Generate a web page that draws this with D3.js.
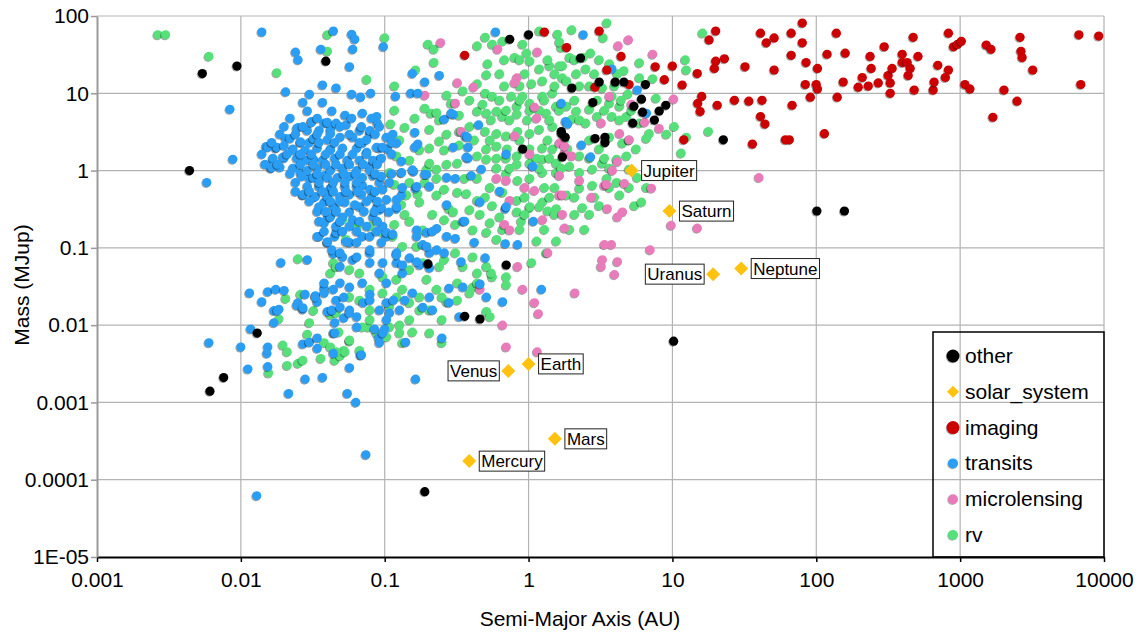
<!DOCTYPE html>
<html><head><meta charset="utf-8">
<script src="https://cdn.jsdelivr.net/npm/d3@7"></script>
<style>body{margin:0;background:#fff} svg{display:block} text{font-family:"Liberation Sans",Arial,sans-serif}</style>
</head><body><svg id="c" width="1142" height="632"></svg>
<script>
// ---------- DATA: [semi-major axis (AU), mass (MJup)] ----------
const seriesNames = ["other","solar_system","imaging","transits","microlensing","rv"];
const xTicks = [0.001,0.01,0.1,1,10,100,1000,10000];
const xTickLabels = ["0.001","0.01","0.1","1","10","100","1000","10000"];
const yTicks = [1e-5,1e-4,1e-3,0.01,0.1,1,10,100];
const yTickLabels = ["1E-05","0.0001","0.001","0.01","0.1","1","10","100"];

const solarNames = ["Mercury","Venus","Earth","Mars","Jupiter","Saturn","Uranus","Neptune"];
const solarA = [0.387,0.723,1.0,1.524,5.203,9.537,19.19,30.07];
const solarM = [0.000174,0.00256,0.00315,0.000338,1.0,0.299,0.0457,0.054];
const solarLabelSide = ["right","left","right","right","right","right","left","right"];

const other = [[0.0054,18],[0.0094,22.5],[0.0044,1.0],[0.013,0.0079],[0.0076,0.0021],[0.0061,0.0014],[0.039,26],[0.2,0.062],[0.36,0.013],[0.46,0.012],[0.70,0.06],[0.19,0.00007],[0.74,50],[1.0,57],[0.91,1.9],[1.72,1.5],[2.3,28.6],[2.0,11.7],[3.1,14],[4.0,14],[4.6,14],[6.5,13],[2.8,7.6],[5.4,6.8],[6.1,8.4],[6.2,5.7],[9.0,7.0],[8.1,5.9],[7.5,4.5],[5.3,4.1],[2.9,2.6],[3.4,2.7],[3.4,2.3],[1.7,3.0],[1.8,2.7],[1.69,3.2],[22.6,2.5],[101,0.3],[157,0.3],[10.2,0.0062]];

const imaging = [[80,81],[67,60],[80,45],[67,31],[85,25],[138,60],[119,32],[159,33],[102,21],[84,13],[100,13],[102,11.4],[91,8.9],[68,7.0],[140,8.9],[154,14],[114,3.0],[65,2.5],[209,16],[196,12],[230,12.4],[237,30],[241,21],[270,13.6],[297,40],[316,17],[337,21],[327,13.6],[327,10],[396,32],[396,25],[429,25],[450,21],[436,17],[472,53],[510,30],[480,11],[650,11],[660,14],[700,23],[830,20],[790,16],[830,60],[900,40],[960,43],[1020,47],[1080,13],[1170,11.4],[1520,42],[1640,37],[2020,11],[1690,4.9],[2490,7.9],[2610,53],[2650,35],[2700,29],[3200,20],[6700,57],[9200,55],[6900,13],
[3.1,64],[1.84,39],[4.4,30],[3.5,20],[2.9,12],[5.0,13],[7.6,22],[10,22.5],[8.8,15],[11.7,12.8],[14.9,18],[20,64],[18,49],[20,26],[23,28],[19.6,21],[32,22],[51,20],[41,60],[45,45],[51,52],[16,9.1],[15,7.4],[15.6,5.8],[20.5,7.0],[27,8.1],[34,7.9],[42,8.1],[41,5.0],[44,4.0],[12,2.5],[36,2.2],[61,2.5],[1.29,62],[0.36,31]];

const transits = [[0.014,62],[0.044,64],[0.024,34],[0.025,27],[0.036,37],[0.0205,10.4],[0.030,9.7],[0.037,12.8],[0.027,7.6],[0.037,7.6],[0.029,5.9],[0.043,5.9],[0.0084,6.2],[0.0088,1.4],[0.0058,0.70],[0.025,3.6],[0.031,4.3],[0.029,3.3],[0.0205,2.6],[0.015,2.05],[0.0175,1.95],[0.0167,1.32],[0.0162,1.07],[0.0187,1.1],[0.020,1.45],[0.023,1.9],[0.026,2.3],[0.030,2.3],[0.038,4.1],[0.042,3.4],[0.027,1.4],[0.032,1.4],[0.042,1.9],[0.026,0.94],[0.030,0.79],[0.038,0.86],[0.027,0.48],[0.032,0.45],[0.038,0.39],[0.042,0.59],[0.040,0.24],[0.038,0.21],[0.035,0.14],[0.040,0.117],[0.045,0.14],[0.044,0.084],[0.019,0.064],[0.029,0.070],[0.0115,0.026],[0.014,0.020],[0.0154,0.027],[0.0175,0.029],[0.020,0.028],[0.017,0.0154],[0.0184,0.016],[0.025,0.0195],[0.028,0.025],[0.033,0.024],[0.034,0.020],[0.027,0.016],[0.038,0.030],[0.038,0.035],[0.043,0.0154],
[0.018,0.0154],[0.017,0.0107],[0.0117,0.0089],[0.006,0.0059],[0.010,0.0052],[0.0154,0.0052],[0.0152,0.0043],[0.0112,0.0027],[0.0154,0.0029],[0.0215,0.0013],[0.027,0.0057],[0.030,0.0060],[0.034,0.0068],[0.034,0.0050],[0.028,0.0020],[0.037,0.0021],[0.044,0.0043],[0.044,0.0079],[0.045,0.0107],[0.057,0.0028],[0.068,0.0041],[0.055,0.0013],[0.063,0.0010],[0.074,0.00021],[0.0129,0.000062],[0.0245,0.018],[0.027,0.0168],[0.033,0.023],[0.038,0.026],[0.040,0.015],[0.043,0.0156],[0.046,0.021],[0.052,0.023],[0.057,0.0156],[0.052,0.0124],[0.064,0.0128],[0.064,0.0094],[0.071,0.0195],[0.079,0.025],[0.085,0.0089],[0.091,0.0068],[0.092,0.0059],[0.10,0.0089],[0.108,0.0144],[0.092,0.0156],[0.103,0.0195],[0.115,0.021],
[0.059,58],[0.062,50],[0.060,37],[0.098,40],[0.057,22],[0.156,18],[0.19,14],[0.24,17],[0.59,62],[0.046,11.7],[0.059,9.7],[0.068,8.9],[0.080,10],[0.119,9.1],[0.152,10],[0.26,4.6],[0.30,5.3],[0.45,3.9],[0.365,2.8],[0.30,2.0],[0.38,2.0],[0.38,1.44],[0.17,2.2],[0.162,3.1],[0.114,2.95],[0.131,1.32],[0.159,0.97],[0.196,0.89],[0.164,0.59],[0.131,0.48],[0.103,0.42],[0.121,0.32],[0.31,0.79],[0.40,0.86],[0.47,1.04],[0.63,0.54],[0.46,0.39],[0.69,0.32],[0.70,1.63],[1.07,1.13],[1.69,7.4],[1.81,4.3],[0.070,5.5],[0.088,5.0],[0.089,4.1],[0.079,3.0],[0.070,2.26],[0.092,1.95],[0.105,1.9],[0.092,1.4],[0.079,1.13],[0.083,0.86],[0.070,0.64],[0.092,0.70],[0.081,0.45],[0.088,0.33],
[2.4,57],[3.8,20.6],[5.7,11],[6.6,5.5],[1.87,4.0],[2.33,2.13],[2.7,1.5],
[0.27,0.36],[0.35,0.22],[0.31,0.132],[0.42,0.117],[0.50,0.074],[0.34,0.066],[0.26,0.086],[0.23,0.094],[0.196,0.158],[0.167,0.17],[0.23,0.178],[0.184,0.11],[0.28,0.030],[0.35,0.031],[0.28,0.0195],[0.51,0.023],[0.66,0.020],[0.33,0.0128],[0.46,0.034],[0.70,0.34],[0.69,0.113],[0.84,0.11],[1.08,0.22],[1.23,0.029],[0.25,0.0068],[0.14,0.0060],[0.097,0.0079],[0.069,0.0041],[0.164,0.0020],[0.121,0.42],[0.149,0.074],[0.175,0.060],[0.205,0.055],[0.205,0.023],[0.156,0.026],[0.184,0.017],[0.215,0.0156],[0.138,0.021],[0.127,0.0156],[0.103,0.0117],[0.079,0.021],[0.057,0.0144],[0.049,0.017],[0.045,0.0079],[0.103,0.035],[0.092,0.047],[0.070,0.035],[0.057,0.031],[0.049,0.035],[0.044,0.029],[0.079,0.064],[0.060,0.070],[0.049,0.057],[0.121,0.064],[0.133,0.047],[0.046,0.31],[0.057,0.29],[0.067,0.34],[0.083,0.25],[0.097,0.19],[0.103,0.14],[0.121,0.086],[0.046,0.158],[0.057,0.117],[0.070,0.14],[0.079,0.086],[0.051,0.076],[0.043,0.094],[0.092,0.31],[0.121,0.34],[0.097,0.064],
[0.053,5.2],[0.031,4.2],[0.040,4.2],[0.046,4.1],[0.054,3.9],[0.067,3.3],[0.079,3.3],[0.0245,3.5],[0.035,3.3],[0.042,3.0],[0.022,2.6],[0.026,2.35],[0.032,2.6],[0.040,2.5],[0.049,2.7],[0.060,2.7],[0.075,2.5],[0.088,2.0],[0.097,2.0],[0.0154,2.0],[0.0178,2.0],[0.020,2.1],[0.023,1.84],[0.028,1.84],[0.034,1.95],[0.042,1.84],[0.051,1.95],[0.064,1.95],[0.075,1.72],[0.0167,1.44],[0.0196,1.49],[0.0245,1.44],[0.029,1.36],[0.037,1.36],[0.045,1.44],[0.055,1.36],[0.067,1.36],[0.083,1.36],[0.095,1.44],[0.0164,1.1],[0.023,1.07],[0.029,1.0],[0.034,1.07],[0.042,1.0],[0.051,1.07],[0.064,1.0],[0.079,1.0],[0.095,0.84],[0.0265,0.84],[0.032,0.81],[0.040,0.81],[0.047,0.81],[0.057,0.84],[0.070,0.81],[0.029,0.62],[0.035,0.62],[0.043,0.60],[0.053,0.62],[0.064,0.62],[0.079,0.57],[0.027,0.49],[0.033,0.46],[0.040,0.46],[0.049,0.46],[0.057,0.49],[0.069,0.49],[0.035,0.34],[0.044,0.34],[0.053,0.39],[0.062,0.36],[0.042,0.25],[0.051,0.25],[0.060,0.23],[0.046,0.19],[0.057,0.19],[0.075,0.19],[0.034,0.14],[0.040,0.12],[0.054,0.12],[0.064,0.117],[0.079,0.14],[0.103,0.158],[0.114,0.149],[0.049,0.086],[0.064,0.076],[0.079,0.094],[0.095,0.117],[0.121,0.081],[0.133,0.060],[0.167,0.066],[0.205,0.086],[0.196,0.104],[0.27,0.14],[0.167,0.14],[0.095,0.33],[0.107,0.29],[0.097,0.57],[0.156,1.02],[0.19,0.89],[0.205,0.62],[0.167,0.62],[0.133,0.60],[0.162,2.0],[0.121,2.26],[0.103,2.7],[0.17,10],[0.29,5.5],[0.376,2.7],[0.37,1.49],[0.27,0.81],[0.36,0.22],[0.215,0.163],[0.131,0.94],
[0.022,4.75],[0.034,4.75],[0.059,4.75],[0.081,4.75],[0.020,3.7],[0.027,3.7],[0.049,3.7],[0.069,3.7],[0.092,3.7],[0.0187,2.95],[0.024,2.95],[0.034,2.95],[0.057,2.95],[0.086,2.95],[0.0164,2.3],[0.035,2.3],[0.045,2.3],[0.067,2.3],[0.112,2.3],
[0.014,1.63],[0.021,1.63],[0.026,1.63],[0.031,1.63],[0.039,1.63],[0.049,1.63],[0.060,1.63],[0.075,1.63],[0.112,1.63],[0.0147,1.2],[0.018,1.2],[0.026,1.2],[0.032,1.2],[0.039,1.2],[0.046,1.2],[0.057,1.2],[0.071,1.2],[0.089,1.2],
[0.022,0.91],[0.034,0.91],[0.052,0.91],[0.063,0.91],[0.086,0.91],[0.112,0.91],[0.024,0.70],[0.035,0.70],[0.044,0.70],[0.053,0.70],[0.064,0.70],[0.108,0.70],[0.024,0.535],[0.030,0.535],[0.037,0.535],[0.044,0.535],[0.054,0.535],[0.065,0.535],[0.086,0.535],
[0.030,0.40],[0.042,0.40],[0.049,0.40],[0.075,0.40],[0.089,0.40],[0.034,0.295],[0.039,0.295],[0.046,0.295],[0.072,0.295],[0.085,0.295],[0.035,0.22],[0.049,0.22],[0.067,0.22],[0.089,0.22],[0.038,0.163],[0.051,0.163],[0.064,0.163],[0.088,0.163]];

const microlensing = [[0.245,45],[0.61,37],[1.15,34],[0.32,13.6],[0.415,12],[0.83,15.8],[0.80,13.6],[0.19,9.4],[0.31,7.4],[0.34,3.2],[1.10,6.6],[1.14,4.75],[0.80,2.8],[1.02,1.63],[1.64,2.26],[1.64,0.86],[0.60,0.79],[0.70,0.74],[0.94,0.60],[1.10,0.55],[1.64,0.48],[0.74,0.41],[1.78,1.68],[0.68,0.20],[0.74,0.17],[0.84,0.057],[0.91,0.029],[0.46,0.029],[0.66,0.010],[0.70,0.0052],[1.15,0.0045],[1.10,0.0195],[1.17,0.014],[1.36,0.086],[1.72,0.27],[1.78,0.18],[1.25,0.23],[4.95,49],[4.2,41],[7.3,32],[10.2,8.4],[8.1,3.5],[6.4,4.2],[5.2,7.2],[3.65,9.1],[3.2,4.1],[4.3,3.0],[5.0,2.5],[1.78,2.06],[2.0,1.54],[3.83,1.0],[4.64,0.68],[7.15,0.59],[40,0.81],[3.37,0.64],[2.26,0.74],[1.72,0.48],[2.74,0.45],[3.53,0.32],[4.15,1.3],[3.48,0.66],[4.5,0.29],[4.15,0.25],[9.8,0.195],[14.9,0.18],[7.0,0.094],[3.77,0.11],[3.37,0.11],[3.26,0.070],[4.15,0.066],[3.96,0.045],[3.2,0.057],[2.1,0.026]];

const rv = [[0.00265,57],[0.0030,57],[0.0060,30],[0.0178,18.4],[0.040,57],[0.040,35],[0.025,0.072],[0.032,0.0154],[0.0205,0.022],[0.026,0.025],[0.042,0.047],[0.044,0.064],[0.0184,0.012],[0.030,0.0107],[0.029,0.0076],[0.0196,0.0055],[0.021,0.0045],[0.0156,0.0024],[0.021,0.0030],[0.025,0.0032],[0.027,0.0035],[0.036,0.0037],[0.038,0.0059],[0.045,0.0035],[0.052,0.0047],[0.057,0.0062],[0.067,0.0047],[0.049,0.0040],[0.048,0.0081],[0.077,0.0094],[0.042,0.0136],[0.079,0.0117],[0.108,0.0094],[0.042,0.0052],
[0.10,52],[0.20,43],[0.22,37],[0.22,25],[0.075,15],[0.164,20],[0.117,12.4],[0.35,10.7],[0.44,13.2],[0.50,10],[0.56,9.1],[0.51,17.3],[0.52,24],[0.44,41],[0.50,53],[0.56,43],[0.66,47],[0.91,43],[0.80,29],[0.97,33],[1.19,64],[1.59,58],[1.69,39],[1.02,26],[1.19,20.6],[1.40,22.6],[1.72,22.6],[1.05,13.2],[1.25,14.4],[1.72,15.8],[0.76,9.1],[0.91,9.1],[0.83,6.8],[1.02,7.4],[1.25,9.1],[1.47,10],[1.56,6.8],[1.33,5.5],[0.83,5.35],[0.66,5.0],[0.60,5.85],[0.51,5.5],[0.44,5.85],[0.48,7.2],[0.21,5.5],[0.23,5.6],[0.29,7.4],[0.11,4.0],[0.138,3.6],[0.205,3.4],[0.24,2.4],[0.205,1.95],[0.27,2.95],[0.33,3.2],[0.39,3.7],[0.50,3.2],[0.60,3.0],[0.70,2.8],[0.84,3.2],[1.02,3.0],[1.19,3.4],[1.47,3.7],[0.60,2.06],[0.71,1.9],[0.83,1.54],[1.02,1.9],[1.25,1.95],[1.47,1.9],[0.51,1.9],[0.44,1.54],[0.51,1.4],[0.32,1.24],[0.27,1.2],[0.23,1.04],[0.196,1.04],[0.23,0.79],[0.19,0.70],[0.149,0.70],[0.131,0.94],[0.108,0.94],[0.142,0.48],[0.17,0.50],[0.23,0.48],[0.32,0.52],[0.36,0.79],[0.44,0.79],[0.37,0.50],[0.44,0.41],[0.56,0.35],[0.83,0.41],[1.02,0.33],[1.25,0.39],[1.56,0.32],[0.70,0.91],[0.84,0.74],[1.02,0.79],[1.25,0.94],[1.56,0.94],[0.83,1.2],[1.02,1.24],[1.25,1.4],[1.56,1.24],[0.66,0.52],[0.28,0.32],[0.121,1.54],[0.205,1.24],
[0.131,0.36],[0.175,0.39],[0.149,0.22],[0.184,0.17],[0.26,0.23],[0.30,0.29],[0.41,0.17],[0.51,0.158],[0.60,0.128],[0.66,0.172],[0.63,0.25],[0.54,0.21],[0.83,0.29],[1.02,0.34],[1.19,0.34],[1.36,0.30],[0.89,0.22],[1.14,0.122],[1.56,0.122],[1.33,0.086],[1.05,0.064],[0.70,0.042],[0.70,0.033],[0.56,0.042],[0.55,0.047],[0.51,0.057],[0.44,0.047],[0.41,0.031],[0.51,0.015],[0.54,0.0128],[0.32,0.021],[0.27,0.020],[0.25,0.0117],[0.205,0.0079],[0.25,0.0059],[0.149,0.0117],[0.127,0.010],[0.156,0.0081],[0.127,0.0079],[0.133,0.0059],[0.103,0.0070],[0.088,0.0079],[0.070,0.0094],[0.057,0.0064],[0.053,0.0045],[0.046,0.0045],[0.26,0.070],[0.31,0.086],[0.35,0.057],[0.41,0.076],[0.44,0.035],[0.39,0.026],[0.24,0.057],[0.32,0.035],[0.196,0.039],[0.23,0.029],[0.25,0.023],[0.175,0.023],[0.133,0.029],[0.121,0.023],[0.149,0.0195],[0.108,0.017],[0.175,0.0156],[0.205,0.0156],[0.097,0.026],[0.079,0.029],[0.067,0.021],[0.057,0.023],[0.046,0.0144],[0.079,0.0156],[0.097,0.042],[0.121,0.039],[0.149,0.052],[0.184,0.064],[0.167,0.104],[0.133,0.104],[0.114,0.14],[0.097,0.158],[0.079,0.19],[0.064,0.19],[0.051,0.23],[0.054,0.128],[0.046,0.057],[0.057,0.052],[0.067,0.047],
[3.5,81],[2.0,66],[3.3,52],[1.64,46],[2.7,33],[2.4,29],[1.93,29],[1.64,22.6],[2.5,20.6],[3.65,24],[5.9,24.7],[4.6,19.5],[5.9,15.8],[7.3,15.4],[12.3,27],[16.2,60],[12.5,20],[1.84,14.4],[2.26,12.4],[3.26,11.7],[3.8,9.1],[4.9,9.7],[7.7,8.6],[4.3,6.8],[3.65,7.4],[2.65,6.2],[2.15,5.85],[1.84,6.8],[2.0,4.6],[2.5,4.1],[3.0,5.0],[3.8,5.0],[4.8,5.0],[5.9,4.1],[6.9,3.0],[9.1,2.95],[10.3,3.7],[12.5,2.7],[17.8,3.2],[11.5,1.68],[6.6,2.6],[4.5,2.26],[3.65,2.7],[3.1,1.9],[2.26,1.54],[1.87,1.9],[1.93,1.13],[2.26,0.94],[2.78,1.04],[3.26,1.24],[4.1,1.4],[4.8,1.54],[5.6,1.9],[5.0,1.04],[5.7,0.81],[4.1,0.70],[3.5,0.79],[2.78,0.64],[2.26,0.59],[1.84,0.48],[4.3,0.48],[6.6,0.60],[5.45,0.35],[3.1,0.35],[2.37,0.33],[6.1,0.39],
[0.68,27],[0.87,27],[1.36,27],[2.09,27],[3.1,27],[0.63,17.8],[0.94,17.8],[1.52,17.8],[2.15,17.8],[2.87,17.8],[4.15,17.8],[0.68,12.4],[0.87,12.4],[1.52,12.4],[2.65,12.4],[3.96,12.4],[0.63,8.1],[0.87,8.1],[1.29,8.1],[2.09,8.1],[3.0,8.1],[4.4,8.1],[0.70,6.0],[1.02,6.0],[1.19,6.0],[1.64,6.0],[3.37,6.0],[5.2,6.0],[0.55,4.5],[0.74,4.5],[0.98,4.5],[1.40,4.5],[2.26,4.5],[4.3,4.5],
[0.54,2.47],[0.87,2.47],[1.36,2.47],[1.78,2.47],[2.65,2.47],[5.0,2.47],[0.60,1.44],[0.70,1.44],[1.14,1.44],[1.40,1.44],[2.65,1.44],[3.37,1.44],[0.60,1.07],[0.74,1.07],[1.19,1.07],[1.69,1.07],[3.65,1.07],[0.54,0.60],[1.29,0.60],[1.52,0.60],[3.65,0.60],[5.0,0.60],[0.50,0.45],[0.94,0.45],[1.40,0.45],[2.09,0.45],[2.87,0.45],[0.46,0.27],[0.94,0.27],[1.52,0.27],[2.09,0.27],[2.65,0.27],[0.87,0.172],[1.29,0.172],[1.93,0.172],[2.45,0.172],
[0.117,6.0],[0.162,4.75],[0.24,4.5],[0.33,5.2],[0.39,8.1],[0.27,9.4],[0.19,6.4],[0.127,2.47],[0.175,1.84],[0.26,1.84],[0.33,2.13],[0.42,2.47],[0.149,1.36],[0.117,0.66],[0.26,0.57],[0.39,0.31],[0.31,0.20],[0.215,0.27],[0.138,0.27],[0.117,0.20]];

// ---------- STYLE ----------
const colors = {other:"#000000", solar_system:"#ffc20e", imaging:"#cc0000", transits:"#2a9df4", microlensing:"#ea7bbb", rv:"#55e07a"};
const L=97, R=1104, T=16, B=557;
const x = d3.scaleLog().domain([1e-3,1e4]).range([L,R]);
const y = d3.scaleLog().domain([1e-5,100]).range([B,T]);
const svg = d3.select("#c");
const gridColor = "#b3b3b3";
const FF = "'Liberation Sans',Arial,sans-serif";

// grid
svg.append("g").selectAll("line").data(xTicks.slice(1)).join("line")
  .attr("x1",d=>x(d)).attr("x2",d=>x(d)).attr("y1",T).attr("y2",B)
  .attr("stroke",gridColor).attr("stroke-width",1.2);
svg.append("g").selectAll("line").data(yTicks.slice(1)).join("line")
  .attr("x1",L).attr("x2",R).attr("y1",d=>y(d)).attr("y2",d=>y(d))
  .attr("stroke",gridColor).attr("stroke-width",1.2);

// axes
const xAxis = d3.axisBottom(x).tickValues(xTicks).tickFormat((d,i)=>xTickLabels[i]).tickSize(5).tickSizeOuter(0).tickPadding(10);
const gx = svg.append("g").attr("transform",`translate(0,${B})`).call(xAxis);
gx.select(".domain").attr("stroke","#000").attr("stroke-width",2);
gx.selectAll(".tick line").attr("stroke","#000").attr("stroke-width",1.5);
gx.selectAll("text").attr("font-size",21).attr("fill","#000").style("font-family",FF);

const yAxis = d3.axisLeft(y).tickValues(yTicks).tickFormat((d,i)=>yTickLabels[i]).tickSize(6).tickSizeOuter(0).tickPadding(2);
const gy = svg.append("g").attr("transform",`translate(${L},0)`).call(yAxis);
gy.select(".domain").attr("stroke","#999").attr("stroke-width",2);
gy.selectAll(".tick line").attr("stroke","#999").attr("stroke-width",1.5);
gy.selectAll("text").attr("font-size",21).attr("fill","#000").style("font-family",FF);

// axis titles
svg.append("text").attr("x",580).attr("y",626).attr("text-anchor","middle").attr("font-size",21).text("Semi-Major Axis (AU)");
svg.append("text").attr("transform",`translate(29,285) rotate(-90)`).attr("text-anchor","middle").attr("font-size",21).text("Mass (MJup)");

// points (drawn with small shadow like the original)
const R0 = 4.6;
function drawSeries(data, color){
  const g = svg.append("g");
  data.forEach(d=>{
    const cx = x(d[0]), cy = y(d[1]);
    g.append("circle").attr("cx",cx-0.9).attr("cy",cy+0.9).attr("r",R0).attr("fill","#000").attr("opacity",0.35);
    g.append("circle").attr("cx",cx).attr("cy",cy).attr("r",R0).attr("fill",color);
  });
}
drawSeries(rv, colors.rv);
drawSeries(microlensing, colors.microlensing);
drawSeries(transits, colors.transits);
drawSeries(imaging, colors.imaging);
drawSeries(other, colors.other);

// solar system
const sg = svg.append("g");
solarNames.forEach((n,i)=>{
  const cx = x(solarA[i]), cy = y(solarM[i]);
  sg.append("path").attr("d",`M${cx},${cy-7}L${cx+7},${cy}L${cx},${cy+7}L${cx-7},${cy}Z`).attr("fill",colors.solar_system);
  const t = sg.append("text").attr("font-size",17).attr("y",cy+6).text(n);
  const w = t.node().getComputedTextLength();
  const bx = solarLabelSide[i]==="right" ? cx+10 : cx-9-(w+4);
  t.attr("x",bx+2);
  sg.insert("rect","text:last-child").attr("x",bx).attr("y",cy-10).attr("width",w+4).attr("height",20)
    .attr("fill","#fff").attr("stroke","#222").attr("stroke-width",1);
});

// legend
const lg = svg.append("g");
lg.append("rect").attr("x",933).attr("y",332).attr("width",171).attr("height",225).attr("fill","none").attr("stroke","#000").attr("stroke-width",1.5);
seriesNames.forEach((n,i)=>{
  const ly = 356 + i*35.8;
  if(n==="solar_system"){
    lg.append("path").attr("d",`M953,${ly-6}L959,${ly}L953,${ly+6}L947,${ly}Z`).attr("fill",colors[n]);
  } else {
    const r = (n==="other"||n==="imaging") ? 6.5 : 5;
    lg.append("circle").attr("cx",952.2).attr("cy",ly+0.8).attr("r",r).attr("fill","#000").attr("opacity",0.3);
    lg.append("circle").attr("cx",953).attr("cy",ly).attr("r",r).attr("fill",colors[n]);
  }
  lg.append("text").attr("x",965).attr("y",ly+7).attr("font-size",21).text(n);
});
</script></body></html>
